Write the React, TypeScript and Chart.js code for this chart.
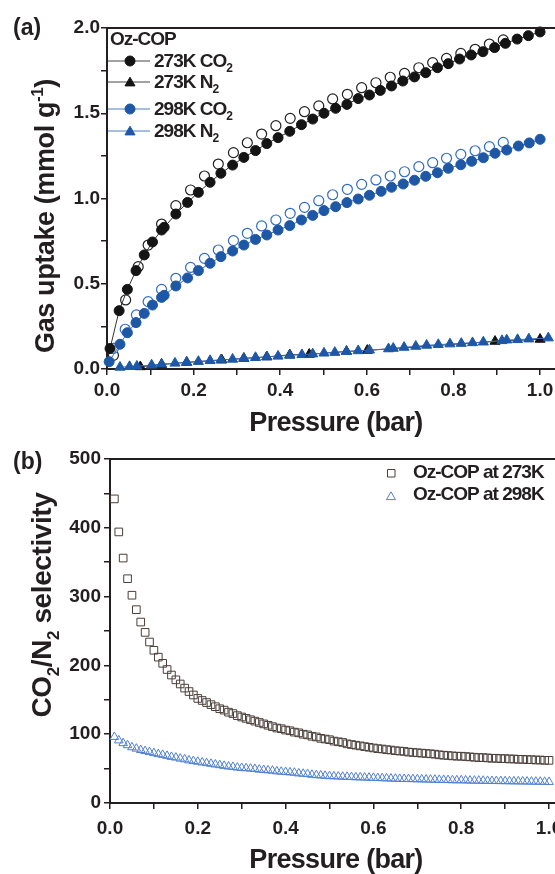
import React, { useEffect, useRef } from 'react';
import { Chart, registerables } from 'chart.js';

Chart.register(...registerables);

// ---------- Panel (a): gas uptake ----------
const co2_273_ads_p = [0.007, 0.028, 0.047, 0.067, 0.086, 0.105, 0.126, 0.132, 0.159, 0.186, 0.211, 0.238, 0.263, 0.290, 0.316, 0.343, 0.369, 0.395, 0.422, 0.449, 0.475, 0.501, 0.528, 0.554, 0.580, 0.606, 0.631, 0.657, 0.683, 0.710, 0.736, 0.763, 0.788, 0.814, 0.841, 0.868, 0.895, 0.920, 0.947, 0.973, 1.0];
const co2_273_ads_q = [0.12, 0.342, 0.467, 0.577, 0.669, 0.745, 0.815, 0.831, 0.909, 0.977, 1.036, 1.095, 1.148, 1.196, 1.241, 1.281, 1.322, 1.357, 1.394, 1.433, 1.466, 1.500, 1.529, 1.552, 1.586, 1.607, 1.634, 1.660, 1.689, 1.713, 1.738, 1.767, 1.791, 1.818, 1.842, 1.861, 1.885, 1.910, 1.935, 1.955, 1.977];

const co2_273_des_p = [0.015, 0.043, 0.072, 0.095, 0.126, 0.159, 0.193, 0.225, 0.257, 0.292, 0.324, 0.357, 0.390, 0.423, 0.456, 0.489, 0.521, 0.555, 0.588, 0.621, 0.654, 0.687, 0.720, 0.752, 0.784, 0.817, 0.850, 0.883, 0.915];
const co2_273_des_q = [0.08, 0.405, 0.600, 0.727, 0.850, 0.958, 1.050, 1.132, 1.202, 1.269, 1.327, 1.378, 1.427, 1.470, 1.509, 1.543, 1.584, 1.611, 1.650, 1.679, 1.711, 1.734, 1.767, 1.797, 1.822, 1.851, 1.875, 1.906, 1.930];

const co2_298_ads_p = [0.005, 0.030, 0.047, 0.067, 0.086, 0.105, 0.126, 0.132, 0.159, 0.186, 0.211, 0.238, 0.263, 0.290, 0.316, 0.343, 0.369, 0.395, 0.422, 0.449, 0.475, 0.501, 0.528, 0.554, 0.580, 0.606, 0.633, 0.657, 0.684, 0.710, 0.736, 0.763, 0.788, 0.817, 0.842, 0.869, 0.896, 0.923, 0.950, 0.975, 1.0];
const co2_298_ads_q = [0.043, 0.145, 0.213, 0.272, 0.326, 0.375, 0.420, 0.432, 0.487, 0.534, 0.577, 0.620, 0.659, 0.692, 0.727, 0.760, 0.786, 0.815, 0.841, 0.874, 0.901, 0.929, 0.952, 0.976, 0.997, 1.019, 1.042, 1.066, 1.085, 1.107, 1.130, 1.151, 1.177, 1.198, 1.218, 1.239, 1.265, 1.284, 1.308, 1.326, 1.347];

const co2_298_des_p = [0.015, 0.042, 0.068, 0.095, 0.126, 0.159, 0.193, 0.225, 0.257, 0.292, 0.324, 0.357, 0.390, 0.423, 0.456, 0.489, 0.521, 0.555, 0.588, 0.621, 0.654, 0.687, 0.720, 0.752, 0.784, 0.817, 0.850, 0.883, 0.915];
const co2_298_des_q = [0.121, 0.233, 0.317, 0.395, 0.467, 0.532, 0.596, 0.649, 0.698, 0.753, 0.796, 0.839, 0.874, 0.913, 0.948, 0.987, 1.022, 1.054, 1.083, 1.109, 1.132, 1.157, 1.187, 1.210, 1.236, 1.259, 1.280, 1.304, 1.329];

const n2_298_p = [0.030, 0.052, 0.069, 0.103, 0.126, 0.157, 0.184, 0.211, 0.238, 0.263, 0.290, 0.316, 0.343, 0.369, 0.395, 0.422, 0.450, 0.475, 0.501, 0.526, 0.553, 0.580, 0.606, 0.650, 0.661, 0.686, 0.713, 0.738, 0.765, 0.792, 0.818, 0.844, 0.869, 0.912, 0.923, 0.948, 0.974, 1.019];
const n2_298_q = [0.010, 0.014, 0.016, 0.023, 0.029, 0.034, 0.039, 0.044, 0.049, 0.053, 0.057, 0.062, 0.067, 0.071, 0.075, 0.080, 0.084, 0.088, 0.093, 0.097, 0.102, 0.107, 0.111, 0.118, 0.121, 0.127, 0.133, 0.139, 0.143, 0.147, 0.150, 0.154, 0.158, 0.166, 0.170, 0.172, 0.176, 0.182];

const n2_273_p = [0.077, 0.126, 0.184, 0.265, 0.316, 0.369, 0.422, 0.467, 0.553, 0.601, 0.896, 1.0];
const n2_273_q = [0.013, 0.026, 0.039, 0.053, 0.062, 0.071, 0.083, 0.086, 0.103, 0.109, 0.162, 0.174];

const xTicksA = [0, 0.1, 0.2, 0.3, 0.4, 0.5, 0.6, 0.7, 0.8, 0.9, 1.0];
const xTickLabelsA = ['0.0', '', '0.2', '', '0.4', '', '0.6', '', '0.8', '', '1.0'];
const yTicksA = [0, 0.25, 0.5, 0.75, 1.0, 1.25, 1.5, 1.75, 2.0];
const yTickLabelsA = ['0.0', '', '0.5', '', '1.0', '', '1.5', '', '2.0'];

// ---------- Panel (b): selectivity ----------
const sel_p = [0.01, 0.02, 0.03, 0.04, 0.05, 0.06, 0.07, 0.08, 0.09, 0.10,
  0.11, 0.12, 0.13, 0.14, 0.15, 0.16, 0.17, 0.18, 0.19, 0.20,
  0.21, 0.22, 0.23, 0.24, 0.25, 0.26, 0.27, 0.28, 0.29, 0.30,
  0.31, 0.32, 0.33, 0.34, 0.35, 0.36, 0.37, 0.38, 0.39, 0.40,
  0.41, 0.42, 0.43, 0.44, 0.45, 0.46, 0.47, 0.48, 0.49, 0.50,
  0.51, 0.52, 0.53, 0.54, 0.55, 0.56, 0.57, 0.58, 0.59, 0.60,
  0.61, 0.62, 0.63, 0.64, 0.65, 0.66, 0.67, 0.68, 0.69, 0.70,
  0.71, 0.72, 0.73, 0.74, 0.75, 0.76, 0.77, 0.78, 0.79, 0.80,
  0.81, 0.82, 0.83, 0.84, 0.85, 0.86, 0.87, 0.88, 0.89, 0.90,
  0.91, 0.92, 0.93, 0.94, 0.95, 0.96, 0.97, 0.98, 0.99, 1.00];
const sel_273 = [442, 394, 356, 326, 302, 281, 263, 248, 234, 222,
  212, 203, 194, 186, 179, 173, 167, 162, 157, 152,
  149, 146, 143, 140, 137, 135, 132, 130, 127, 125,
  123, 121, 119, 117, 115, 113, 111, 109, 108, 106,
  105, 103, 102, 100, 99, 97, 96, 94, 93, 92,
  90, 89, 88, 86, 85, 84, 83, 82, 81, 80,
  79, 78.5, 77.5, 77, 76, 75.5, 75, 74, 73.5, 73,
  72.5, 72, 71.5, 71, 70, 69.5, 69, 68.5, 68, 68,
  67.5, 67, 66.5, 66, 66, 65.5, 65, 65, 64.5, 64.5,
  64, 64, 63.5, 63.5, 63, 63, 62.5, 62.5, 62, 62];
const sel_298 = [96, 91, 87, 84, 81, 79, 77, 75.5, 74, 72.5,
  71, 70, 68.5, 67, 66, 64.5, 63.5, 62, 61, 60,
  59, 58, 57, 56, 55, 54, 53, 52.5, 51.5, 51,
  50.5, 50, 49.5, 48.5, 48, 47.5, 47, 46, 45.5, 45,
  44.5, 44, 43, 42.5, 42, 41, 40.5, 40, 39.5, 39,
  38.8, 38.5, 38.2, 38, 37.7, 37.4, 37.2, 37, 36.8, 36.5,
  36.3, 36, 35.8, 35.5, 35.3, 35, 34.9, 34.8, 34.6, 34.5,
  34.3, 34.1, 34, 33.8, 33.6, 33.5, 33.3, 33.1, 33, 33,
  32.8, 32.6, 32.5, 32.4, 32.3, 32.1, 32, 31.9, 31.8, 31.7,
  31.6, 31.5, 31.4, 31.3, 31.2, 31.1, 31, 30.9, 30.8, 30.6];

const xTicksB = [0, 0.1, 0.2, 0.3, 0.4, 0.5, 0.6, 0.7, 0.8, 0.9, 1.0];
const xTickLabelsB = ['0.0', '', '0.2', '', '0.4', '', '0.6', '', '0.8', '', '1.0'];
const yTicksB = [0, 50, 100, 150, 200, 250, 300, 350, 400, 450, 500];
const yTickLabelsB = ['0', '', '100', '', '200', '', '300', '', '400', '', '500'];

// ---------- texts ----------
type Seg = { t: string; s?: 'sub' | 'sup' };
const legendTitleA = 'Oz-COP';
const legendLabelsA: Seg[][] = [
  [{ t: '273K CO' }, { t: '2', s: 'sub' }],
  [{ t: '273K N' }, { t: '2', s: 'sub' }],
  [{ t: '298K CO' }, { t: '2', s: 'sub' }],
  [{ t: '298K N' }, { t: '2', s: 'sub' }],
];
const yTitleA: Seg[] = [{ t: 'Gas uptake (mmol g' }, { t: '-1', s: 'sup' }, { t: ')' }];
const xTitle: Seg[] = [{ t: 'Pressure (bar)' }];
const yTitleB: Seg[] = [{ t: 'CO' }, { t: '2', s: 'sub' }, { t: '/N' }, { t: '2', s: 'sub' }, { t: ' selectivity' }];
const legendLabelsB = ['Oz-COP at 273K', 'Oz-COP at 298K'];

// ---------- styles ----------
const FONT = "'Liberation Sans', Arial, Helvetica, sans-serif";
const INK = '#231f20';
const BLACK = '#141414';
const BLUE = '#1d57a6';
const BLUE_OPEN = '#2f6cc2';
const SQ = '#4a3f3a';
const TRI_B = '#5080d0';

function setFont(ctx: CanvasRenderingContext2D, size: number) {
  ctx.font = `bold ${size}px ${FONT}`;
}

function drawRich(ctx: CanvasRenderingContext2D, segs: Seg[], x: number, y: number, size: number, align: 'left' | 'center', spacing: number) {
  ctx.save();
  (ctx as any).letterSpacing = `${spacing}px`;
  ctx.textBaseline = 'alphabetic';
  ctx.textAlign = 'left';
  ctx.fillStyle = INK;
  const small = Math.round(size * 0.62);
  let total = 0;
  const widths = segs.map((s) => {
    setFont(ctx, s.s ? small : size);
    const w = ctx.measureText(s.t).width;
    total += w;
    return w;
  });
  let cx = align === 'center' ? x - total / 2 : x;
  segs.forEach((s, i) => {
    setFont(ctx, s.s ? small : size);
    const dy = s.s === 'sub' ? size * 0.27 : s.s === 'sup' ? -size * 0.4 : 0;
    ctx.fillText(s.t, cx, y + dy);
    cx += widths[i];
  });
  ctx.restore();
}

function circle(ctx: CanvasRenderingContext2D, x: number, y: number, r: number, fill: string, stroke: string) {
  ctx.beginPath();
  ctx.arc(x, y, r, 0, Math.PI * 2);
  ctx.fillStyle = fill;
  ctx.fill();
  ctx.lineWidth = 1;
  ctx.strokeStyle = stroke;
  ctx.stroke();
}

function triangle(ctx: CanvasRenderingContext2D, x: number, y: number, r: number, fill: string | null, stroke: string) {
  ctx.beginPath();
  ctx.moveTo(x, y - r);
  ctx.lineTo(x + r * 0.866, y + r / 2);
  ctx.lineTo(x - r * 0.866, y + r / 2);
  ctx.closePath();
  if (fill) {
    ctx.fillStyle = fill;
    ctx.fill();
  }
  ctx.lineWidth = 1;
  ctx.strokeStyle = stroke;
  ctx.stroke();
}

function topBorder(chart: any) {
  const { ctx, chartArea } = chart;
  ctx.save();
  ctx.beginPath();
  ctx.moveTo(chartArea.left - 1, chartArea.top);
  ctx.lineTo(chartArea.right + 5, chartArea.top);
  ctx.lineWidth = 2;
  ctx.strokeStyle = INK;
  ctx.stroke();
  ctx.restore();
}

const decorA = {
  id: 'decorA',
  afterDraw(chart: any) {
    const ctx: CanvasRenderingContext2D = chart.ctx;
    topBorder(chart);
    drawRich(ctx, [{ t: '(a)' }], 13, 35, 23, 'left', 0);
    ctx.save();
    ctx.translate(54, 216);
    ctx.rotate(-Math.PI / 2);
    drawRich(ctx, yTitleA, 0, 0, 27, 'center', -0.4);
    ctx.restore();
    drawRich(ctx, xTitle, 336, 431, 27, 'center', -0.7);
    // legend
    drawRich(ctx, [{ t: legendTitleA }], 110, 45, 19, 'left', -1);
    const ys = [61, 82, 109, 131];
    const lineCols = ['#444', '#444', '#4a7cc8', '#4a7cc8'];
    ys.forEach((y, i) => {
      ctx.save();
      ctx.beginPath();
      ctx.moveTo(108, y);
      ctx.lineTo(150, y);
      ctx.lineWidth = 1;
      ctx.strokeStyle = lineCols[i];
      ctx.stroke();
      if (i === 0) circle(ctx, 130, y, 5, BLACK, BLACK);
      if (i === 1) triangle(ctx, 130, y + 1, 5.8, BLACK, BLACK);
      if (i === 2) circle(ctx, 130, y, 5, BLUE, BLUE);
      if (i === 3) triangle(ctx, 130, y + 1, 5.8, BLUE, BLUE);
      ctx.restore();
      drawRich(ctx, legendLabelsA[i], 154, y + 6, 19, 'left', -1);
    });
  },
};

const decorB = {
  id: 'decorB',
  afterDraw(chart: any) {
    const ctx: CanvasRenderingContext2D = chart.ctx;
    topBorder(chart);
    drawRich(ctx, [{ t: '(b)' }], 13, 29, 23, 'left', 0);
    ctx.save();
    ctx.translate(51, 165);
    ctx.rotate(-Math.PI / 2);
    drawRich(ctx, yTitleB, 0, 0, 28, 'center', -0.4);
    ctx.restore();
    drawRich(ctx, xTitle, 336, 428, 27, 'center', -0.7);
    // legend
    ctx.save();
    ctx.beginPath();
    ctx.rect(387.5, 29.5, 7.5, 7.5);
    ctx.lineWidth = 1;
    ctx.strokeStyle = SQ;
    ctx.stroke();
    triangle(ctx, 391, 57, 5.2, null, TRI_B);
    ctx.restore();
    drawRich(ctx, [{ t: legendLabelsB[0] }], 413, 38, 19, 'left', -1);
    drawRich(ctx, [{ t: legendLabelsB[1] }], 413, 60, 19, 'left', -1);
  },
};

function zip(xs: number[], ys: number[]) {
  return xs.map((x, i) => ({ x, y: ys[i] }));
}

function axisX(max: number, ticks: number[], labels: string[], height: number, pad: number) {
  return {
    type: 'linear' as const,
    min: 0,
    max,
    afterBuildTicks: (s: any) => { s.ticks = ticks.map((v) => ({ value: v })); },
    afterFit: (s: any) => { s.height = height; },
    ticks: {
      autoSkip: false,
      maxRotation: 0,
      minRotation: 0,
      padding: pad,
      color: INK,
      font: { family: FONT, size: 19, weight: 'bold' as const },
      callback: (_v: any, i: number) => labels[i],
    },
    grid: { display: true, drawOnChartArea: false, drawTicks: true, tickLength: 6, color: INK, lineWidth: 1.5 },
    border: { display: true, color: INK, width: 2 },
  };
}

function axisY(max: number, ticks: number[], labels: string[], width: number, pad: number) {
  return {
    type: 'linear' as const,
    min: 0,
    max,
    afterBuildTicks: (s: any) => { s.ticks = ticks.map((v) => ({ value: v })); },
    afterFit: (s: any) => { s.width = width; },
    ticks: {
      autoSkip: false,
      padding: pad,
      color: INK,
      font: { family: FONT, size: 19, weight: 'bold' as const },
      callback: (_v: any, i: number) => labels[i],
    },
    grid: { display: true, drawOnChartArea: false, drawTicks: true, tickLength: 6, color: INK, lineWidth: 1.5 },
    border: { display: true, color: INK, width: 2 },
  };
}

export default function App() {
  const topRef = useRef<HTMLCanvasElement>(null);
  const botRef = useRef<HTMLCanvasElement>(null);

  useEffect(() => {
    const common = {
      animation: false as const,
      responsive: false,
      devicePixelRatio: 1,
      plugins: { legend: { display: false }, tooltip: { enabled: false }, title: { display: false } },
    };

    const chartA = new Chart(topRef.current as HTMLCanvasElement, {
      type: 'scatter',
      data: {
        datasets: [
          { label: '298K N2', data: zip(n2_298_p, n2_298_q), showLine: true, borderColor: '#3f72c4', borderWidth: 1, pointStyle: 'triangle', pointRadius: 5.8, pointBackgroundColor: BLUE, pointBorderColor: BLUE, pointBorderWidth: 1, clip: false },
          { label: '273K N2', data: zip(n2_273_p, n2_273_q), showLine: true, borderColor: '#333', borderWidth: 1, pointStyle: 'triangle', pointRadius: 5.8, pointBackgroundColor: BLACK, pointBorderColor: BLACK, pointBorderWidth: 1, clip: false },
          { label: '298K CO2 ads', data: zip(co2_298_ads_p, co2_298_ads_q), showLine: true, borderColor: '#3f72c4', borderWidth: 1, pointStyle: 'circle', pointRadius: 5, pointBackgroundColor: BLUE, pointBorderColor: BLUE, pointBorderWidth: 1, clip: false },
          { label: '273K CO2 ads', data: zip(co2_273_ads_p, co2_273_ads_q), showLine: true, borderColor: '#333', borderWidth: 1, pointStyle: 'circle', pointRadius: 5, pointBackgroundColor: BLACK, pointBorderColor: BLACK, pointBorderWidth: 1, clip: false },
          { label: '298K CO2 des', data: zip(co2_298_des_p, co2_298_des_q), showLine: false, pointStyle: 'circle', pointRadius: 5, pointBackgroundColor: '#ffffff', pointBorderColor: BLUE_OPEN, pointBorderWidth: 1.2, clip: false },
          { label: '273K CO2 des', data: zip(co2_273_des_p, co2_273_des_q), showLine: false, pointStyle: 'circle', pointRadius: 5, pointBackgroundColor: '#ffffff', pointBorderColor: '#222', pointBorderWidth: 1.2, clip: false },
        ],
      },
      options: {
        ...common,
        layout: { padding: { top: 28, right: 40, left: 0, bottom: 0 } },
        scales: {
          x: axisX(1.046, xTicksA, xTickLabelsA, 71, 4),
          y: axisY(2.0, yTicksA, yTickLabelsA, 107, 1),
        },
      } as any,
      plugins: [decorA],
    });

    const chartB = new Chart(botRef.current as HTMLCanvasElement, {
      type: 'scatter',
      data: {
        datasets: [
          { label: 'Oz-COP at 273K', data: zip(sel_p, sel_273), showLine: false, pointStyle: 'rect', pointRadius: 5.4, pointBackgroundColor: 'rgba(0,0,0,0)', pointBorderColor: SQ, pointBorderWidth: 1, clip: false },
          { label: 'Oz-COP at 298K', data: zip(sel_p, sel_298), showLine: false, pointStyle: 'triangle', pointRadius: 5, pointBackgroundColor: 'rgba(0,0,0,0)', pointBorderColor: TRI_B, pointBorderWidth: 1, clip: false },
        ],
      },
      options: {
        ...common,
        layout: { padding: { top: 19, right: 40, left: 0, bottom: 0 } },
        scales: {
          x: axisX(1.025, xTicksB, xTickLabelsB, 71, 8),
          y: axisY(500, yTicksB, yTickLabelsB, 110, 3),
        },
      } as any,
      plugins: [decorB],
    });

    return () => {
      chartA.destroy();
      chartB.destroy();
    };
  }, []);

  return (
    <div style={{ position: 'absolute', left: 0, top: 0, width: 555, height: 874, overflow: 'hidden', background: '#ffffff' }}>
      <canvas ref={topRef} width={600} height={440} style={{ position: 'absolute', left: 0, top: 0, width: 600, height: 440 }} />
      <canvas ref={botRef} width={600} height={434} style={{ position: 'absolute', left: 0, top: 440, width: 600, height: 434 }} />
    </div>
  );
}
